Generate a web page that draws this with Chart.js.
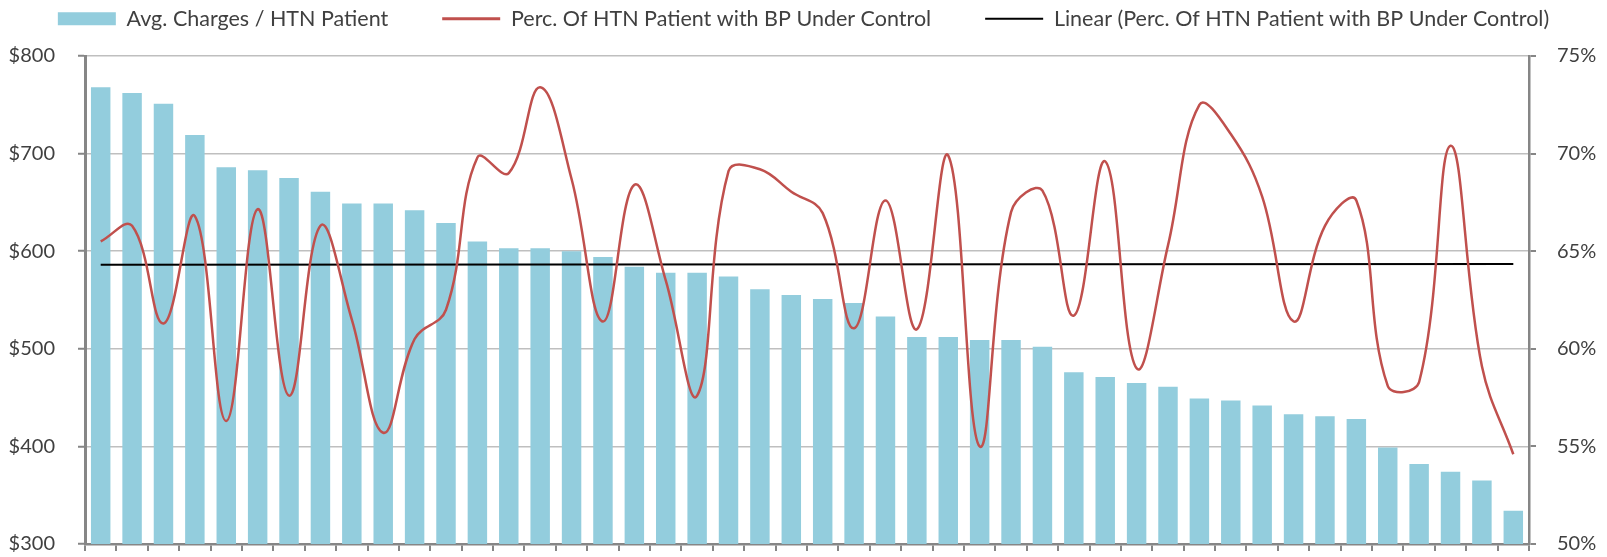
<!DOCTYPE html>
<html>
<head>
<meta charset="utf-8">
<script src="https://cdn.jsdelivr.net/npm/chart.js@4"></script>
<style>
  body { margin: 0; background: #fff; }
  #wrap { width: 1607px; height: 557px; }
</style>
</head>
<body>
<div id="wrap"><canvas id="grafico"></canvas></div>
<script>
// values
const categorias = Array.from({ length: 46 }, (_, i) => "P" + (i + 1));

const mediaCobranca = [
  768, 762, 751, 719, 686, 683, 675, 661, 649, 649,
  642, 629, 610, 603, 603, 600, 594, 584, 578, 578,
  574, 561, 555, 551, 547, 533, 512, 512, 509, 509,
  502, 476, 471, 465, 461, 449, 447, 442, 433, 431,
  428, 399, 382, 374, 365, 334
];

const percControlada = [
  65.5, 66.3, 61.3, 66.8, 56.3, 67.15, 57.6, 66.3, 61.5, 55.7,
  60.5, 62.0, 69.8, 69.0, 73.4, 68.7, 61.4, 68.4, 63.5, 57.6,
  69.1, 69.2, 68.05, 66.95, 61.05, 67.6, 61.0, 69.9, 55.0, 67.0,
  68.1, 61.7, 69.6, 59.0, 65.3, 72.5, 71.0, 67.8, 61.4, 66.3,
  67.6, 58.1, 58.3, 70.4, 59.1, 54.6
];

// trend line end points (Excel linear trendline)
const tendenciaInicio = 64.3;
const tendenciaFim = 64.35;

const ticksDolar = [300, 400, 500, 600, 700, 800];
const ticksPerc = [50, 55, 60, 65, 70, 75];

const tendencia = categorias.map((_, i) =>
  i === 0 ? tendenciaInicio : i === categorias.length - 1 ? tendenciaFim : null
);

Chart.defaults.font.family = "Lato";
Chart.defaults.font.size = 20;
Chart.defaults.color = "#404040";

// legend sits a bit higher than the plot, push the plot down
const legendaAltura = {
  id: "legendaAltura",
  beforeInit(chart) {
    const fitOriginal = chart.legend.fit;
    chart.legend.fit = function () {
      fitOriginal.call(this);
      this.height += 16.5;
    };
  },
};

const grafico = document.getElementById("grafico");

new Chart(grafico, {
  type: "bar",
  data: {
    labels: categorias,
    datasets: [
      {
        label: "Avg. Charges / HTN Patient",
        data: mediaCobranca,
        backgroundColor: "#93CDDD",
        borderWidth: 0,
        barPercentage: 0.62,
        categoryPercentage: 1,
        yAxisID: "y",
        order: 3,
      },
      {
        type: "line",
        label: "Perc. Of HTN Patient with BP Under Control",
        data: percControlada,
        borderColor: "#C0504D",
        borderWidth: 2.5,
        pointRadius: 0,
        tension: 0.4,
        yAxisID: "y1",
        order: 1,
      },
      {
        type: "line",
        label: "Linear (Perc. Of HTN Patient with BP Under Control)",
        data: tendencia,
        borderColor: "#000000",
        borderWidth: 2,
        pointRadius: 0,
        spanGaps: true,
        yAxisID: "y1",
        order: 2,
      },
    ],
  },
  options: {
    responsive: true,
    maintainAspectRatio: false,
    animation: false,
    layout: { padding: { top: -46, left: 0, right: 0, bottom: 6 } },
    plugins: {
      tooltip: { enabled: false },
      legend: {
        position: "top",
        labels: {
          font: { size: 21.5 },
          usePointStyle: true,
          pointStyleWidth: 58,
          boxHeight: 13,
          padding: 54,
          color: "#404040",
          sort: (a, b) => a.datasetIndex - b.datasetIndex,
          generateLabels(chart) {
            const itens = Chart.defaults.plugins.legend.labels.generateLabels(chart);
            itens.forEach((item) => {
              if (item.datasetIndex === 0) {
                item.pointStyle = "rect";
                item.lineWidth = 0;
              } else {
                item.pointStyle = "line";
                item.lineWidth = item.datasetIndex === 1 ? 3 : 2;
              }
            });
            return itens;
          },
        },
      },
    },
    scales: {
      x: {
        offset: true,
        grid: {
          offset: true,
          drawOnChartArea: false,
          tickLength: 7,
          color: "#868686",
          lineWidth: 2,
        },
        border: { color: "#868686", width: 2.5 },
        ticks: { display: false },
      },
      y: {
        position: "left",
        min: 300,
        max: 800,
        afterBuildTicks: (axis) => {
          axis.ticks = ticksDolar.map((v) => ({ value: v }));
        },
        afterFit: (axis) => {
          axis.width = 85;
          axis.paddingTop = 0;
          axis.paddingBottom = 0;
        },
        ticks: {
          padding: 23,
          callback: (v) => "$" + v,
        },
        grid: {
          color: "#BFBFBF",
          lineWidth: 1.5,
          tickColor: "#868686",
          tickLength: 7,
          tickWidth: 2,
        },
        border: { color: "#868686", width: 3 },
      },
      y1: {
        position: "right",
        min: 50,
        max: 75,
        afterBuildTicks: (axis) => {
          axis.ticks = ticksPerc.map((v) => ({ value: v }));
        },
        afterFit: (axis) => {
          axis.width = 78;
          axis.paddingTop = 0;
          axis.paddingBottom = 0;
        },
        ticks: {
          padding: 21,
          callback: (v) => v + "%",
        },
        grid: {
          drawOnChartArea: false,
          color: "#868686",
          tickLength: 7,
          lineWidth: 2,
        },
        border: { color: "#868686", width: 2.5 },
      },
    },
  },
  plugins: [legendaAltura],
});
</script>
</body>
</html>
